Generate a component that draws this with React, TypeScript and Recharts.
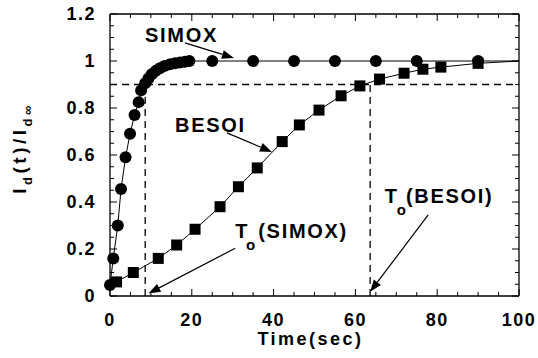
import React from 'react';
import { ComposedChart, Scatter, XAxis, YAxis, ReferenceLine, ReferenceDot } from 'recharts';

// ---- data ----
const simoxTime = [0, 0.8, 1.9, 2.7, 3.8, 4.9, 6.0, 7.0, 7.6, 8.6, 9.4, 10.2, 11.2, 12.2, 13.3, 14.7, 15.9, 17.1, 18.3, 19.4, 25, 35, 45, 55, 65, 75, 90];
const simoxValue = [0.047, 0.16, 0.3, 0.455, 0.59, 0.69, 0.77, 0.825, 0.875, 0.905, 0.926, 0.944, 0.958, 0.969, 0.979, 0.986, 0.99, 0.994, 0.997, 1.0, 1.0, 1.0, 1.0, 1.0, 1.0, 1.0, 1.0];
const besoiTime = [1.6, 5.7, 11.8, 16.3, 20.8, 26.9, 31.4, 36, 42.1, 46.3, 51.1, 56.5, 61.1, 65.9, 71.9, 76.5, 80.9, 90];
const besoiValue = [0.06, 0.1, 0.16, 0.217, 0.284, 0.38, 0.465, 0.545, 0.657, 0.728, 0.791, 0.852, 0.894, 0.923, 0.948, 0.965, 0.974, 0.99];
// fitted line continuation beyond the last measured point
const simoxTailTime = [90, 100];
const simoxTailValue = [1.0, 1.0];
const besoiTailTime = [90, 100];
const besoiTailValue = [0.99, 1.0];

const threshold = 0.9;
const simoxT0 = 8.6;
const besoiT0 = 63.6;

const xTicks = [0, 20, 40, 60, 80, 100];
const xMinorTicks = [5, 10, 15, 25, 30, 35, 45, 50, 55, 65, 70, 75, 85, 90, 95];
const yTicks = [0, 0.2, 0.4, 0.6, 0.8, 1, 1.2];
const yMinorTicks = [0.05, 0.1, 0.15, 0.25, 0.3, 0.35, 0.45, 0.5, 0.55, 0.65, 0.7, 0.75, 0.85, 0.9, 0.95, 1.05, 1.1, 1.15];

const toPoints = (xs: number[], ys: number[]) => xs.map((x, i) => ({ x, y: ys[i] }));
const simoxData = toPoints(simoxTime, simoxValue);
const besoiData = toPoints(besoiTime, besoiValue);
const simoxTail = toPoints(simoxTailTime, simoxTailValue);
const besoiTail = toPoints(besoiTailTime, besoiTailValue);

const FONT = "'Liberation Sans', Arial, Helvetica, sans-serif";
const tickStyle = { fill: '#000', fontSize: 18, fontWeight: 700, fontFamily: FONT, letterSpacing: 1.5 };

const Circle = (p: any) => <circle cx={p.cx} cy={p.cy} r={6} fill="#000" />;
const Square = (p: any) => <rect x={p.cx - 5.5} y={p.cy - 5.5} width={11} height={11} fill="#000" />;
const Hidden = () => <g />;

// inward tick stubs at both ends of a reference line
const XStub = (len: number) => (p: any) => {
  const top = Math.min(p.y1, p.y2);
  const bot = Math.max(p.y1, p.y2);
  return (
    <g stroke="#000" strokeWidth={1}>
      <line x1={p.x1} y1={top} x2={p.x1} y2={top + len} />
      <line x1={p.x1} y1={bot} x2={p.x1} y2={bot - len} />
    </g>
  );
};
const YStub = (len: number) => (p: any) => {
  const left = Math.min(p.x1, p.x2);
  const right = Math.max(p.x1, p.x2);
  return (
    <g stroke="#000" strokeWidth={1}>
      <line x1={left} y1={p.y1} x2={left + len} y2={p.y1} />
      <line x1={right} y1={p.y1} x2={right - len} y2={p.y1} />
    </g>
  );
};

const Arrow = (p: any) => {
  const { x1, y1, x2, y2 } = p;
  const dx = x2 - x1;
  const dy = y2 - y1;
  const len = Math.hypot(dx, dy) || 1;
  const ux = dx / len;
  const uy = dy / len;
  const L = 12;
  const W = 4.5;
  const bx = x2 - ux * L;
  const by = y2 - uy * L;
  const pts = `${x2},${y2} ${bx - uy * W},${by + ux * W} ${bx + uy * W},${by - ux * W}`;
  return (
    <g>
      <line x1={x1} y1={y1} x2={bx} y2={by} stroke="#000" strokeWidth={1.2} />
      <polygon points={pts} fill="#000" />
    </g>
  );
};

const annoText = { fontSize: 20, fontWeight: 700, fontFamily: FONT, letterSpacing: 1.7, fill: '#000' };

const label = (text: string) => (p: any) => (
  <text x={p.cx} y={p.cy} {...annoText}>{text}</text>
);

const toLabel = (name: string, oDx: number, pDx: number) => (p: any) => (
  <text x={p.cx} y={p.cy} {...annoText}>
    T
    <tspan fontSize={15} letterSpacing={0} dx={oDx} dy={12}>o</tspan>
    <tspan dx={pDx} dy={-12}>{`(${name})`}</tspan>
  </text>
);

const YLabel = (props: any) => {
  const vb = props.viewBox || { x: 0, y: 14, width: 110, height: 282 };
  const cx = vb.x + 26;
  const cy = vb.y + vb.height / 2 - 7;
  return (
    <text
      transform={`rotate(-90 ${cx} ${cy})`}
      x={cx}
      y={cy}
      textAnchor="middle"
      fontSize={19}
      fontWeight={700}
      fontFamily={FONT}
      letterSpacing={3.5}
      fill="#000"
    >
      I
      <tspan fontSize={13} dy={6}>d</tspan>
      <tspan dy={-6}>(t)/I</tspan>
      <tspan fontSize={13} dy={6}>d∞</tspan>
    </text>
  );
};

const XLabel = (props: any) => {
  const vb = props.viewBox || { x: 110, y: 296, width: 409, height: 52 };
  return (
    <text
      x={vb.x + vb.width / 2 - 4}
      y={345}
      textAnchor="middle"
      fontSize={18}
      fontWeight={700}
      fontFamily={FONT}
      letterSpacing={2.5}
      fill="#000"
    >
      Time(sec)
    </text>
  );
};

const axisLine = { stroke: '#000', strokeWidth: 1.3 };

export default function App() {
  return (
    <div style={{ position: 'absolute', left: 0, top: 0, width: 538, height: 358, background: '#fff' }}>
      <ComposedChart width={538} height={358} margin={{ top: 14, right: 19, bottom: 10, left: 0 }}>
        <XAxis
          type="number"
          dataKey="x"
          domain={[0, 100]}
          ticks={xTicks}
          interval={0}
          tickLine={false}
          tickSize={0}
          tickMargin={17}
          axisLine={axisLine}
          tick={tickStyle}
          height={52}
          label={{ content: XLabel }}
        />
        <YAxis
          type="number"
          dataKey="y"
          domain={[0, 1.2]}
          ticks={yTicks}
          interval={0}
          tickLine={false}
          tickSize={0}
          tickMargin={14}
          axisLine={axisLine}
          tick={tickStyle}
          width={110}
          label={{ content: YLabel }}
        />

        {/* frame */}
        <ReferenceLine y={1.2} stroke="#000" strokeWidth={1.3} />
        <ReferenceLine x={100} stroke="#000" strokeWidth={1.3} />

        {/* inward tick marks */}
        {xMinorTicks.map((v) => (
          <ReferenceLine key={`xm${v}`} x={v} shape={XStub(4)} />
        ))}
        {xTicks.map((v) => (
          <ReferenceLine key={`xM${v}`} x={v} shape={XStub(7)} />
        ))}
        {yMinorTicks.map((v) => (
          <ReferenceLine key={`ym${v}`} y={v} shape={YStub(4)} />
        ))}
        {yTicks.map((v) => (
          <ReferenceLine key={`yM${v}`} y={v} shape={YStub(7)} />
        ))}

        <ReferenceLine y={threshold} stroke="#000" strokeWidth={1.3} strokeDasharray="7 5" />
        <ReferenceLine segment={[{ x: simoxT0, y: 0 }, { x: simoxT0, y: threshold }]} stroke="#000" strokeWidth={1.3} strokeDasharray="7 5" />
        <ReferenceLine segment={[{ x: besoiT0, y: 0 }, { x: besoiT0, y: threshold }]} stroke="#000" strokeWidth={1.3} strokeDasharray="7 5" />

        <Scatter data={simoxTail} line={{ stroke: '#000', strokeWidth: 1 }} lineType="joint" shape={Hidden} isAnimationActive={false} />
        <Scatter data={besoiTail} line={{ stroke: '#000', strokeWidth: 1 }} lineType="joint" shape={Hidden} isAnimationActive={false} />
        <Scatter data={simoxData} line={{ stroke: '#000', strokeWidth: 1 }} lineType="joint" shape={Circle} isAnimationActive={false} />
        <Scatter data={besoiData} line={{ stroke: '#000', strokeWidth: 1 }} lineType="joint" shape={Square} isAnimationActive={false} />

        <ReferenceLine segment={[{ x: 18.3, y: 1.077 }, { x: 30.3, y: 1.013 }]} shape={Arrow} />
        <ReferenceLine segment={[{ x: 28.6, y: 0.694 }, { x: 39.6, y: 0.613 }]} shape={Arrow} />
        <ReferenceLine segment={[{ x: 30.6, y: 0.203 }, { x: 9.4, y: 0.011 }]} shape={Arrow} />
        <ReferenceLine segment={[{ x: 77.8, y: 0.345 }, { x: 63.6, y: 0.018 }]} shape={Arrow} />

        <ReferenceDot x={8.56} y={1.081} r={0} shape={label('SIMOX')} />
        <ReferenceDot x={15.9} y={0.698} r={0} shape={label('BESOI')} />
        <ReferenceDot x={30.6} y={0.247} r={0} shape={toLabel('SIMOX', -3, 3)} />
        <ReferenceDot x={67.2} y={0.396} r={0} shape={toLabel('BESOI', -2, 0)} />
      </ComposedChart>
    </div>
  );
}
